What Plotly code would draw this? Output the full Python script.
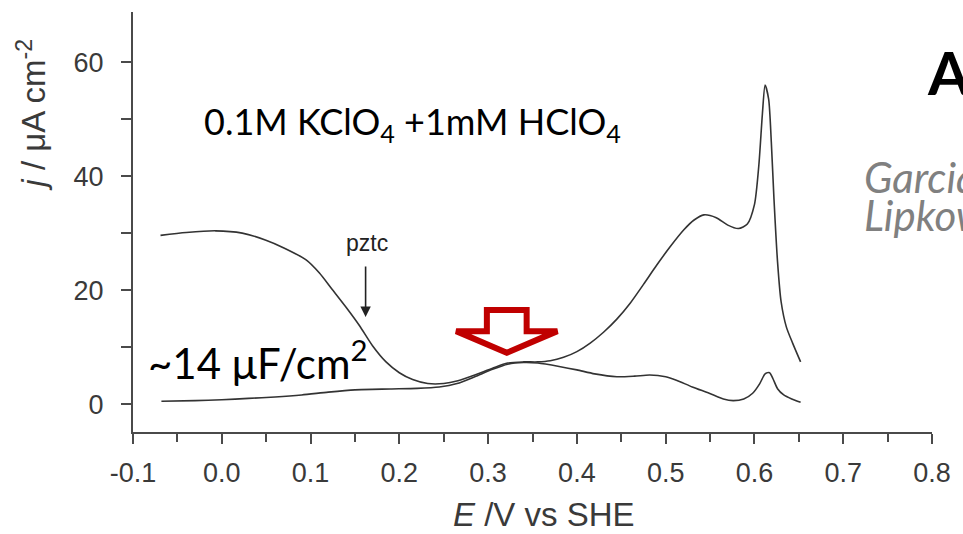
import plotly.graph_objects as go

# Cyclic voltammogram branches, E in V vs SHE, j in uA cm^-2
E_upper = [-0.069, -0.04, -0.007, 0.023, 0.049, 0.07, 0.095, 0.11, 0.124, 0.14,
           0.155, 0.17, 0.185, 0.2, 0.215, 0.232, 0.25, 0.266, 0.285, 0.305,
           0.322, 0.34, 0.356, 0.37, 0.385, 0.40, 0.415, 0.43, 0.445, 0.46,
           0.475, 0.49, 0.505, 0.52, 0.532, 0.543, 0.557, 0.57, 0.582, 0.592,
           0.6, 0.605, 0.609, 0.612, 0.616, 0.619, 0.622, 0.626, 0.63, 0.636,
           0.643, 0.652]
j_upper = [29.6, 30.1, 30.4, 30.0, 28.8, 27.4, 25.3, 23.0, 20.2, 17.0,
           13.8, 10.2, 7.4, 5.5, 4.3, 3.6, 3.6, 4.1, 5.1, 6.3,
           7.2, 7.4, 7.4, 7.6, 8.2, 9.2, 10.7, 12.6, 14.9, 17.7,
           21.0, 24.4, 27.6, 30.5, 32.3, 33.2, 32.7, 31.4, 30.8, 31.6,
           35.0, 42.0, 51.0, 56.0, 53.5, 46.0, 36.0, 25.0, 18.0, 13.5,
           10.7, 7.4]

E_lower = [-0.068, -0.03, 0.0, 0.03, 0.06, 0.09, 0.12, 0.15, 0.19, 0.22,
           0.245, 0.265, 0.285, 0.305, 0.322, 0.34, 0.356, 0.38, 0.40, 0.42,
           0.445, 0.465, 0.482, 0.50, 0.512, 0.53, 0.549, 0.565, 0.576, 0.588,
           0.598, 0.606, 0.612, 0.617, 0.621, 0.626, 0.633, 0.642, 0.652]
j_lower = [0.5, 0.6, 0.75, 1.0, 1.25, 1.6, 2.1, 2.5, 2.65, 2.75,
           3.0, 3.6, 4.8, 6.1, 7.0, 7.3, 7.2, 6.6, 6.0, 5.3,
           4.8, 4.9, 5.1, 4.8, 4.2, 3.0, 1.9, 0.9, 0.6, 0.9,
           1.9, 3.6, 5.3, 5.5, 4.4, 2.7, 1.6, 0.9, 0.3]

x_ticks = [-0.1, 0.0, 0.1, 0.2, 0.3, 0.4, 0.5, 0.6, 0.7, 0.8]
x_ticktext = ["-0.1", "0.0", "0.1", "0.2", "0.3", "0.4", "0.5", "0.6", "0.7", "0.8"]
y_ticks = [0, 20, 40, 60]

# pztc marker position and the hollow arrow pointing at the ~0.32 V feature
pztc_E, pztc_tip, pztc_tail = 0.162, 15.3, 24.4
hollow_E, hollow_tip = 0.321, 9.0

AXIS_COLOR = "#4a4a4a"
CURVE_COLOR = "#333333"
SANS = "Liberation Sans, Arial, sans-serif"
TICK_FONT = dict(family=SANS, size=27, color="#3a3a3a")

fig = go.Figure()
for E, j in ((E_upper, j_upper), (E_lower, j_lower)):
    fig.add_trace(go.Scatter(
        x=E, y=j, mode="lines",
        line=dict(color=CURVE_COLOR, width=1.6, shape="spline", smoothing=0.7),
        showlegend=False, hoverinfo="skip",
    ))

fig.update_layout(
    width=963, height=534,
    margin=dict(l=133, r=26, t=12, b=102),
    paper_bgcolor="white", plot_bgcolor="white",
    xaxis=dict(
        range=[-0.1, 0.8], tickvals=x_ticks, ticktext=x_ticktext,
        showgrid=False, zeroline=False, showline=True,
        linecolor=AXIS_COLOR, linewidth=2,
        ticks="outside", ticklen=10, tickwidth=2, tickcolor=AXIS_COLOR,
        minor=dict(dtick=0.05, tick0=-0.1, ticks="outside", ticklen=8,
                   tickwidth=2, tickcolor=AXIS_COLOR, showgrid=False),
        tickfont=TICK_FONT, ticklabelstandoff=6,
    ),
    yaxis=dict(
        range=[-4.9, 68.8], tickvals=y_ticks,
        showgrid=False, zeroline=False, showline=True,
        linecolor=AXIS_COLOR, linewidth=2,
        ticks="outside", ticklen=10, tickwidth=2, tickcolor=AXIS_COLOR,
        minor=dict(dtick=10, tick0=0, ticks="outside", ticklen=10,
                   tickwidth=2, tickcolor=AXIS_COLOR, showgrid=False),
        tickfont=TICK_FONT, ticklabelstandoff=12,
    ),
)

# hollow red arrow, outline only
sh_hw, wing_hw = 0.0224, 0.057
sh_top, wing_y = 16.5, 12.8
path = (f"M {hollow_E - sh_hw},{sh_top} L {hollow_E + sh_hw},{sh_top} "
        f"L {hollow_E + sh_hw},{wing_y} L {hollow_E + wing_hw},{wing_y} "
        f"L {hollow_E},{hollow_tip} L {hollow_E - wing_hw},{wing_y} "
        f"L {hollow_E - sh_hw},{wing_y} Z")
fig.add_shape(type="path", path=path, xref="x", yref="y",
              line=dict(color="#c00000", width=6), fillcolor="rgba(0,0,0,0)")

body_font = "Lato, Carlito, sans-serif"

fig.add_annotation(x=-0.0228, y=49.3, xref="x", yref="y", xanchor="left", yanchor="middle",
                   text="0.1M KClO<sub>4</sub> +1mM HClO<sub>4</sub>", showarrow=False,
                   font=dict(family=body_font, size=36, color="black"))
fig.add_annotation(x=-0.0855, y=7.8, xref="x", yref="y", xanchor="left", yanchor="middle",
                   text="~14 μF/cm<sup>2</sup>", showarrow=False,
                   font=dict(family=body_font, size=42, color="black"))

# pztc label and its arrow
fig.add_annotation(x=0.164, y=28.2, xref="x", yref="y", xanchor="center", yanchor="middle",
                   text="pztc", showarrow=False,
                   font=dict(family=SANS, size=23, color="#222"))
fig.add_annotation(x=pztc_E, y=pztc_tip, ax=pztc_E, ay=pztc_tail, xref="x", yref="y",
                   axref="x", ayref="y", text="", showarrow=True,
                   arrowhead=2, arrowsize=1.3, arrowwidth=1.6, arrowcolor="#222")

# panel letter and citation, running past the right edge
fig.add_annotation(x=(930 - 133) / 804, y=(432 - 72) / 420, xref="paper", yref="paper",
                   xanchor="left", yanchor="middle", text="<b>A</b>", showarrow=False,
                   font=dict(family=body_font, size=60, color="black"))
fig.add_annotation(x=(867 - 133) / 804, y=(432 - 177) / 420, xref="paper", yref="paper",
                   xanchor="left", yanchor="middle", text="<i>Garcia-Araez</i>", showarrow=False,
                   font=dict(family=body_font, size=42, color="#808080"))
fig.add_annotation(x=(867 - 133) / 804, y=(432 - 215) / 420, xref="paper", yref="paper",
                   xanchor="left", yanchor="middle", text="<i>Lipkowski</i>", showarrow=False,
                   font=dict(family=body_font, size=42, color="#808080"))

# axis titles
fig.add_annotation(x=(31 - 133) / 804, y=(432 - 115) / 420, xref="paper", yref="paper",
                   xanchor="center", yanchor="middle",
                   text="<i>j</i> / μA cm<sup>-2</sup>", textangle=-90, showarrow=False,
                   font=dict(family=SANS, size=33, color="#3a3a3a"))
fig.add_annotation(x=(547 - 133) / 804, y=(432 - 514) / 420, xref="paper", yref="paper",
                   xanchor="center", yanchor="middle",
                   text="<i>E</i> /V vs SHE", showarrow=False,
                   font=dict(family=SANS, size=33, color="#3a3a3a"))

fig.write_html("out.html")
